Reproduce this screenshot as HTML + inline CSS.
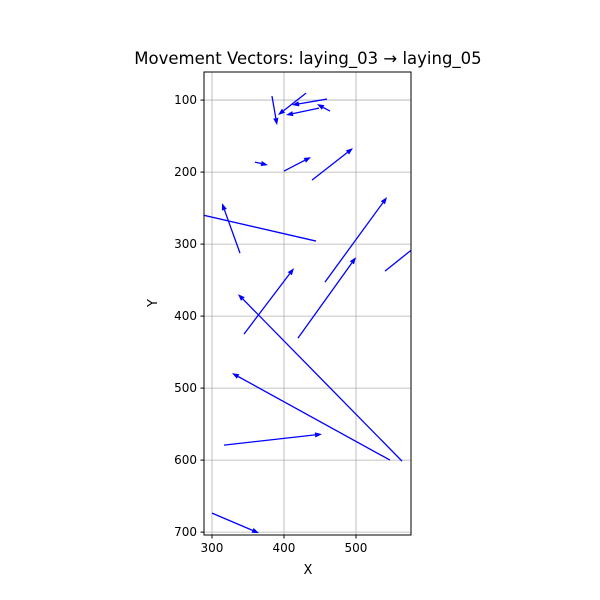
<!DOCTYPE html>
<html><head><meta charset="utf-8"><style>
body{margin:0;background:#fff;}
svg{display:block;font-family:"DejaVu Sans","Liberation Sans",sans-serif;}
</style></head><body>
<svg id="chart" width="600" height="600" viewBox="0 0 600 600">
<rect width="600" height="600" fill="#fff"/>
<defs><clipPath id="plotclip"><rect x="204" y="72" width="207" height="463"/></clipPath></defs>
<g id="grid"></g>
<g id="vectors" clip-path="url(#plotclip)"></g>
<rect x="204" y="72" width="207" height="463" fill="none" stroke="#000" stroke-width="1"/>
<g id="ticks"></g>
<text x="308" y="64" text-anchor="middle" font-size="16.5">Movement Vectors: laying_03 → laying_05</text>
<text x="308" y="574" text-anchor="middle" font-size="13">X</text>
<text x="157" y="303" text-anchor="middle" font-size="13" transform="rotate(-90 157 303)">Y</text>
</svg>
<script>
const xTicks=[300,400,500];
const yTicks=[100,200,300,400,500,600,700];
const startX=[383.3,430.6,459.7,463.9,448.6,359.7,400,438.9,338.9,444.4,456.9,540.3,344.4,419.4,563.9,547.2,316.7,300];
const startY=[94.4,90.3,98.6,115.3,111.1,186.1,198.6,211.1,312.5,295.8,352.8,337.5,425,430.6,601.4,600,579.2,673.6];
const endX=[390.3,391.7,411.1,445.8,402.8,377.8,437.5,495.8,313.9,269.4,543.1,602.8,413.9,500,336.1,327.8,452.8,365.3];
const endY=[134.7,120.8,106.9,105.6,120.8,190.3,179.2,166.7,243.1,255.6,234.7,287.5,333.3,318.1,369.4,479.2,563.9,701.4];
const X0=288.9,X1=576.4,Y0=61,Y1=704,L=204,R=411,T=72,B=535;
const sx=v=>L+(v-X0)/(X1-X0)*(R-L);
const sy=v=>T+(v-Y0)/(Y1-Y0)*(B-T);
const NS="http://www.w3.org/2000/svg";
const grid=document.getElementById('grid'),ticks=document.getElementById('ticks'),vec=document.getElementById('vectors');
function mk(t,a){const e=document.createElementNS(NS,t);for(const k in a)e.setAttribute(k,a[k]);return e;}
xTicks.forEach(v=>{const x=sx(v);
 const g=mk('line',{x1:x,x2:x,y1:T,y2:B,stroke:'#b0b0b0','stroke-width':0.8});
 
 grid.appendChild(g);
 const t=mk('line',{x1:x,x2:x,y1:B,y2:B+3.5,stroke:'#000'});
 
 ticks.appendChild(t);
 const l=mk('text',{x:x,y:B+17,'text-anchor':'middle','font-size':12});l.textContent=v;
 
 ticks.appendChild(l);});
yTicks.forEach(v=>{const y=sy(v);
 const g=mk('line',{x1:L,x2:R,y1:y,y2:y,stroke:'#b0b0b0','stroke-width':0.8});
 
 grid.appendChild(g);
 const t=mk('line',{x1:L-3.5,x2:L,y1:y,y2:y,stroke:'#000'});
 
 ticks.appendChild(t);
 const l=mk('text',{x:L-7,y:y+4,'text-anchor':'end','font-size':12});l.textContent=v;
 
 ticks.appendChild(l);});
startX.forEach((_,i)=>{
 const x1=sx(startX[i]),y1=sy(startY[i]),x2=sx(endX[i]),y2=sy(endY[i]);
 const dx=x2-x1,dy=y2-y1,len=Math.hypot(dx,dy),ux=dx/len,uy=dy/len,hl=7,hw=2.6;
 const bx=x2-ux*hl,by=y2-uy*hl;
 const g=mk('g',{});
 
 
 g.appendChild(mk('line',{x1:x1,y1:y1,x2:bx,y2:by,stroke:'#0000ff','stroke-width':1.3}));
 g.appendChild(mk('polygon',{points:`${x2},${y2} ${bx-uy*hw},${by+ux*hw} ${bx+uy*hw},${by-ux*hw}`,fill:'#0000ff'}));
 vec.appendChild(g);});
</script>
</body></html>
